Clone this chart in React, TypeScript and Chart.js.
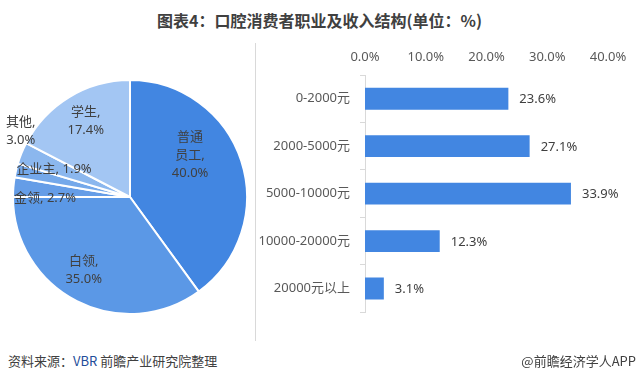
import React, { useEffect, useRef } from "react";
import { Chart, registerables } from "chart.js";

Chart.register(...registerables);

// ---------- data ----------
const pieCategories = ["普通员工", "白领", "金领", "企业主", "其他", "学生"];
const pieValues = [40.0, 35.0, 2.7, 1.9, 3.0, 17.4];
const pieNameLines = [["普通", "员工,"], ["白领,"], ["金领,"], ["企业主,"], ["其他,"], ["学生,"]];
const pieInline = [false, false, true, true, false, false];
const pieColors = ["#4286E1", "#5B98E6", "#659DE7", "#74A8EA", "#8BB7EE", "#A3C6F3"];
// label placement: [radius fraction, dx, dy]
const pieLabelPos = [
  [0.63, -10, -19],
  [0.74, -7, -4],
  [0.72, -1, 8],
  [0.78, 13, -7],
  [1.09, 9, -18],
  [0.76, 2, 0],
];

const incomeCategories = ["0-2000元", "2000-5000元", "5000-10000元", "10000-20000元", "20000元以上"];
const incomeValues = [23.6, 27.1, 33.9, 12.3, 3.1];
const xTickMax = 40;
const xTickStep = 10;

const FONT = "'Noto Sans', 'Noto Sans CJK SC', sans-serif";

const pieLabelPlugin = {
  id: "pieLabels",
  afterDatasetsDraw(chart: any) {
    const ctx = chart.ctx;
    const meta = chart.getDatasetMeta(0);
    ctx.save();
    ctx.font = `13px ${FONT}`;
    ctx.fillStyle = "#404040";
    ctx.textAlign = "center";
    ctx.textBaseline = "middle";
    meta.data.forEach((arc: any, i: number) => {
      const p = arc.getProps(["x", "y", "startAngle", "endAngle", "outerRadius"], true);
      const mid = (p.startAngle + p.endAngle) / 2;
      const [f, dx, dy] = pieLabelPos[i];
      const cx = p.x + Math.cos(mid) * p.outerRadius * f + dx;
      const cy = p.y + Math.sin(mid) * p.outerRadius * f + dy;
      const pct = pieValues[i].toFixed(1) + "%";
      let lines: string[];
      if (pieInline[i]) {
        lines = [pieNameLines[i].join("") + " " + pct];
      } else {
        lines = [...pieNameLines[i], pct];
      }
      const lh = 18;
      const startY = cy - ((lines.length - 1) * lh) / 2;
      lines.forEach((t, k) => ctx.fillText(t, cx, startY + k * lh));
    });
    ctx.restore();
  },
};

const barLabelPlugin = {
  id: "barLabels",
  afterDatasetsDraw(chart: any) {
    const ctx = chart.ctx;
    const meta = chart.getDatasetMeta(0);
    ctx.save();
    ctx.font = `13px ${FONT}`;
    ctx.fillStyle = "#404040";
    ctx.textAlign = "left";
    ctx.textBaseline = "middle";
    meta.data.forEach((bar: any, i: number) => {
      ctx.fillText(incomeValues[i].toFixed(1) + "%", bar.x + 11, bar.y + 1);
    });
    ctx.restore();
  },
};

function PieChart() {
  const ref = useRef<HTMLCanvasElement>(null);
  useEffect(() => {
    const chart = new Chart(ref.current!, {
      type: "pie",
      data: {
        labels: pieCategories,
        datasets: [
          {
            data: pieValues,
            backgroundColor: pieColors,
            borderColor: "#ffffff",
            borderWidth: 2,
            radius: 117,
          } as any,
        ],
      },
      options: {
        animation: false,
        responsive: true,
        maintainAspectRatio: false,
        layout: { padding: 0 },
        plugins: { legend: { display: false }, tooltip: { enabled: false } },
      },
      plugins: [pieLabelPlugin],
    });
    return () => chart.destroy();
  }, []);
  return <canvas ref={ref} />;
}

function BarChart() {
  const ref = useRef<HTMLCanvasElement>(null);
  useEffect(() => {
    const chart = new Chart(ref.current!, {
      type: "bar",
      data: {
        labels: incomeCategories,
        datasets: [
          {
            data: incomeValues,
            backgroundColor: "#4286E1",
            barPercentage: 0.46,
            categoryPercentage: 1,
          },
        ],
      },
      options: {
        indexAxis: "y",
        animation: false,
        responsive: true,
        maintainAspectRatio: false,
        layout: { padding: { left: 0, right: 31, top: 0, bottom: 13 } },
        plugins: { legend: { display: false }, tooltip: { enabled: false } },
        scales: {
          x: {
            position: "top",
            min: 0,
            max: xTickMax,
            ticks: {
              stepSize: xTickStep,
              callback: (v: any) => Number(v).toFixed(1) + "%",
              font: { size: 13, family: FONT },
              color: "#595959",
              padding: 10,
              maxRotation: 0,
            },
            grid: { display: false, drawTicks: false },
            border: { display: false },
            afterFit: (axis: any) => {
              axis.height = 35;
            },
          },
          y: {
            ticks: {
              font: { size: 13, family: FONT },
              color: "#595959",
              padding: 10,
            },
            grid: {
              offset: true,
              drawOnChartArea: false,
              tickLength: 5,
              color: "#D9D9D9",
            },
            border: { display: true, color: "#D9D9D9", width: 1 },
            afterFit: (axis: any) => {
              axis.width = 109;
            },
          },
        },
      } as any,
      plugins: [barLabelPlugin],
    });
    return () => chart.destroy();
  }, []);
  return <canvas ref={ref} />;
}

export default function App() {
  return (
    <div
      style={{
        position: "absolute",
        left: 0,
        top: 0,
        width: 639,
        height: 381,
        background: "#ffffff",
        overflow: "hidden",
        fontFamily: FONT,
      }}
    >
      <div
        style={{
          position: "absolute",
          left: 0,
          top: 9,
          width: 639,
          height: 22,
          lineHeight: "22px",
          textAlign: "center",
          fontWeight: "bold",
          fontSize: 16,
          color: "#404040",
          fontFamily: "'Noto Sans CJK SC', sans-serif",
        }}
      >
        图表4：口腔消费者职业及收入结构(单位：%)
      </div>
      <div style={{ position: "absolute", left: 0, top: 70, width: 260, height: 254 }}>
        <PieChart />
      </div>
      <div
        style={{ position: "absolute", left: 255, top: 43, width: 1, height: 298, background: "#D9D9D9" }}
      />
      <div style={{ position: "absolute", left: 256, top: 40, width: 383, height: 290 }}>
        <BarChart />
      </div>
      <div
        style={{
          position: "absolute",
          left: 8,
          top: 351,
          height: 20,
          lineHeight: "20px",
          fontSize: 13,
          color: "#404040",
          fontFamily: "'Noto Sans CJK SC', sans-serif",
        }}
      >
        资料来源：<span style={{ color: "#1F4E9A" }}>VBR</span> 前瞻产业研究院整理
      </div>
      <div
        style={{
          position: "absolute",
          right: 3,
          top: 351,
          height: 20,
          lineHeight: "20px",
          fontSize: 13,
          color: "#404040",
          fontFamily: "'Noto Sans CJK SC', sans-serif",
        }}
      >
        @前瞻经济学人APP
      </div>
    </div>
  );
}
